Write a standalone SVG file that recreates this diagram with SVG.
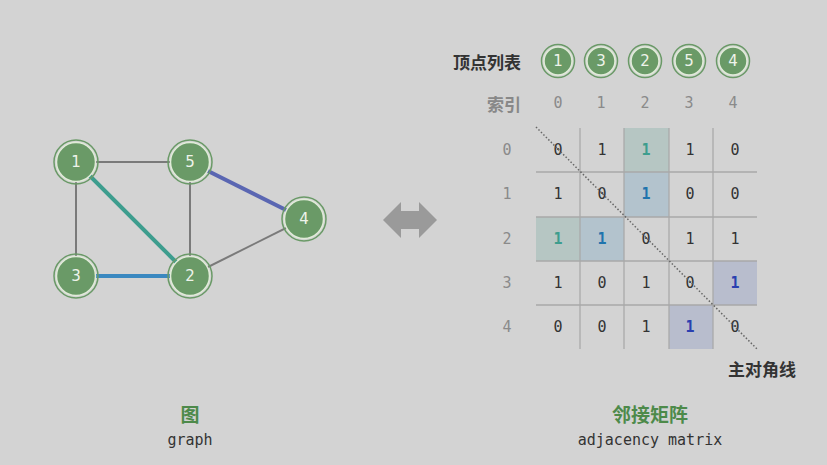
<svg xmlns="http://www.w3.org/2000/svg" width="827" height="465" viewBox="0 0 827 465">
<defs>
<style>
.bg{fill:#d3d3d3}
.node circle.o{fill:none;stroke:#6a9a67;stroke-width:1.5}
.node circle.i{fill:#6a9a67;stroke:#e0ebd8;stroke-width:1.5}
.nt{font-family:"DejaVu Sans","Noto Sans",sans-serif;font-size:15px;fill:#eef3ea;text-anchor:middle;dominant-baseline:central}
.e{stroke:#7a7a7a;stroke-width:2;fill:none}
.mono{font-family:"DejaVu Sans Mono","Liberation Mono",monospace;font-size:15px;text-anchor:middle;dominant-baseline:central}
.cell{fill:#333}
.idx{fill:#8a8a8a}
.grid{stroke:#a9a9a9;stroke-width:1.3}
.cjkb{font-family:"Noto Sans CJK SC","Noto Sans",sans-serif;font-weight:bold;font-size:17px;dominant-baseline:central}
.title{font-size:19px}
</style>
</defs>
<rect class="bg" x="0" y="0" width="827" height="465"/>
<g id="connectors">
<line class="e" x1="76" y1="162" x2="190" y2="162"/>
<line class="e" x1="76" y1="162" x2="76" y2="276"/>
<line class="e" x1="190" y1="162" x2="190" y2="276"/>
<line class="e" x1="190" y1="276" x2="304" y2="219"/>
<line x1="76" y1="162" x2="190" y2="276" stroke="#3d9d8e" stroke-width="4"/>
<line x1="76" y1="276" x2="190" y2="276" stroke="#3a88c0" stroke-width="4"/>
<line x1="190" y1="162" x2="304" y2="219" stroke="#5a66b2" stroke-width="4"/>
</g>
<g id="node-1" class="node"><circle class="o" cx="76" cy="162" r="22"/><circle class="i" cx="76" cy="162" r="19.5"/><text class="nt" x="76" y="162">1</text></g>
<g id="node-5" class="node"><circle class="o" cx="190" cy="162" r="22"/><circle class="i" cx="190" cy="162" r="19.5"/><text class="nt" x="190" y="162">5</text></g>
<g id="node-4" class="node"><circle class="o" cx="304" cy="219" r="22"/><circle class="i" cx="304" cy="219" r="19.5"/><text class="nt" x="304" y="219">4</text></g>
<g id="node-3" class="node"><circle class="o" cx="76" cy="276" r="22"/><circle class="i" cx="76" cy="276" r="19.5"/><text class="nt" x="76" y="276">3</text></g>
<g id="node-2" class="node"><circle class="o" cx="190" cy="276" r="22"/><circle class="i" cx="190" cy="276" r="19.5"/><text class="nt" x="190" y="276">2</text></g>

<g id="double-arrow"><polygon points="383,220 401,202 401,211 419,211 419,202 437,220 419,238 419,229 401,229 401,238" fill="#9a9a9a"/></g>

<g id="vertex-list">
<text class="cjkb" x="521" y="61" text-anchor="end" fill="#333">顶点列表</text>
<g class="node"><circle class="o" cx="558" cy="61" r="16.5"/><circle class="i" cx="558" cy="61" r="14"/><text class="nt" x="558" y="61">1</text></g>
<g class="node"><circle class="o" cx="601" cy="61" r="16.5"/><circle class="i" cx="601" cy="61" r="14"/><text class="nt" x="601" y="61">3</text></g>
<g class="node"><circle class="o" cx="645" cy="61" r="16.5"/><circle class="i" cx="645" cy="61" r="14"/><text class="nt" x="645" y="61">2</text></g>
<g class="node"><circle class="o" cx="689" cy="61" r="16.5"/><circle class="i" cx="689" cy="61" r="14"/><text class="nt" x="689" y="61">5</text></g>
<g class="node"><circle class="o" cx="733" cy="61" r="16.5"/><circle class="i" cx="733" cy="61" r="14"/><text class="nt" x="733" y="61">4</text></g>
<text class="cjkb" x="521" y="103" text-anchor="end" fill="#888">索引</text>
<text class="mono idx" x="558" y="103">0</text>
<text class="mono idx" x="601" y="103">1</text>
<text class="mono idx" x="645" y="103">2</text>
<text class="mono idx" x="689" y="103">3</text>
<text class="mono idx" x="733" y="103">4</text>
</g>

<g id="matrix">
<rect x="624" y="128" width="45" height="44" fill="#b6c6c3"/>
<rect x="624" y="172" width="45" height="45" fill="#b3c3cd"/>
<rect x="536" y="217" width="44" height="44" fill="#b6c6c3"/>
<rect x="580" y="217" width="44" height="44" fill="#b3c3cd"/>
<rect x="713" y="261" width="44" height="44" fill="#b8bdcd"/>
<rect x="669" y="305" width="44" height="44" fill="#b8bdcd"/>
<g class="grid">
<line x1="580" y1="128" x2="580" y2="349"/>
<line x1="624" y1="128" x2="624" y2="349"/>
<line x1="669" y1="128" x2="669" y2="349"/>
<line x1="713" y1="128" x2="713" y2="349"/>
<line x1="536" y1="172" x2="757" y2="172"/>
<line x1="536" y1="217" x2="757" y2="217"/>
<line x1="536" y1="261" x2="757" y2="261"/>
<line x1="536" y1="305" x2="757" y2="305"/>
</g>
<text class="mono idx" x="507" y="150">0</text>
<text class="mono idx" x="507" y="194">1</text>
<text class="mono idx" x="507" y="239">2</text>
<text class="mono idx" x="507" y="283">3</text>
<text class="mono idx" x="507" y="327">4</text>
<g class="mono cell">
<text x="558" y="150">0</text><text x="602" y="150">1</text><text x="646" y="150" fill="#3d9d8e" font-weight="bold">1</text><text x="690" y="150">1</text><text x="735" y="150">0</text>
<text x="558" y="194">1</text><text x="602" y="194">0</text><text x="646" y="194" fill="#1f74ad" font-weight="bold">1</text><text x="690" y="194">0</text><text x="735" y="194">0</text>
<text x="558" y="239" fill="#3d9d8e" font-weight="bold">1</text><text x="602" y="239" fill="#1f74ad" font-weight="bold">1</text><text x="646" y="239">0</text><text x="690" y="239">1</text><text x="735" y="239">1</text>
<text x="558" y="283">1</text><text x="602" y="283">0</text><text x="646" y="283">1</text><text x="690" y="283">0</text><text x="735" y="283" fill="#2a3fb0" font-weight="bold">1</text>
<text x="558" y="327">0</text><text x="602" y="327">0</text><text x="646" y="327">1</text><text x="690" y="327" fill="#2a3fb0" font-weight="bold">1</text><text x="735" y="327">0</text>
</g>
<line x1="536" y1="127" x2="757" y2="349" stroke="#666" stroke-width="1.5" stroke-dasharray="1.5 2"/>
<text class="cjkb" x="796" y="368" text-anchor="end" fill="#333">主对角线</text>
</g>

<g id="labels">
<text class="cjkb title" x="190" y="413" text-anchor="middle" fill="#4d8a4a">图</text>
<text class="mono" x="190" y="440" fill="#333">graph</text>
<text class="cjkb title" x="650" y="413" text-anchor="middle" fill="#4d8a4a">邻接矩阵</text>
<text class="mono" x="650" y="440" fill="#333">adjacency matrix</text>
</g>
</svg>
